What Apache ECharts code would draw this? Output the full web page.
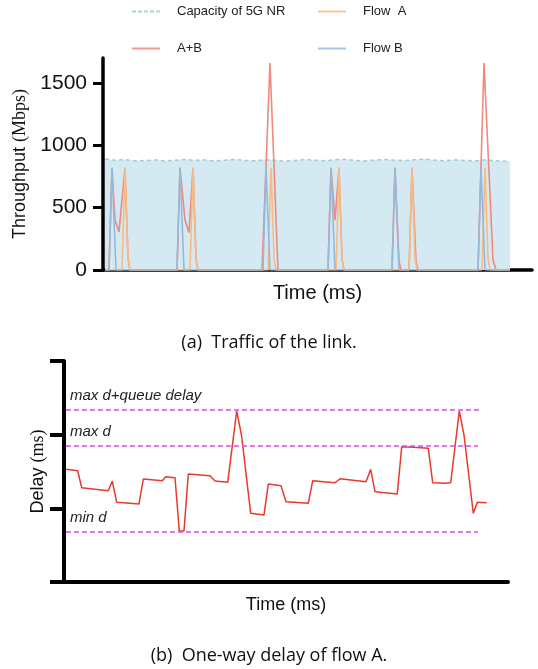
<!DOCTYPE html>
<html><head><meta charset="utf-8">
<script src="https://cdn.jsdelivr.net/npm/echarts@6/dist/echarts.min.js"></script>
<style>html,body{margin:0;padding:0;background:#fff}#c{width:538px;height:669px}</style>
</head><body><div id="c"></div>
<script>
// ---- Data (a) Traffic of the link ----
const capTimes = [2,12,22,32,42,52,62,72,82,92,102,112,122,132,142,152,162,172,182,192,202,212,222,232,242,252,262,272,282,292,302,312,322,332,342,352,362,372,382,392,402,407];
const capValues = [890,880,884,876,878,883,874,880,886,879,882,875,880,887,878,876,884,880,873,879,886,881,877,883,888,879,875,882,886,880,878,884,889,881,876,883,879,874,882,877,873,870];
const flowB = [[2,0],[6,0],[9,820],[13,0],[74,0],[77,820],[81,0],[160,0],[163,820],[167,0],[225,0],[228,820],[232,0],[289,0],[292,820],[296,0],[375,0],[378,820],[382,0],[407,0]];
const flowA = [[2,0],[19,0],[22,820],[25,90],[27,0],[87,0],[90,820],[93,90],[95,0],[165,0],[168,820],[171,90],[173,0],[233,0],[236,820],[239,90],[241,0],[306,0],[309,820],[312,90],[314,0],[379,0],[382,820],[385,90],[387,0],[407,0]];
const flowAB = [[2,0],[6,0],[9,820],[12,400],[16,306],[22,820],[25,90],[27,0],[74,0],[77,820],[82,400],[86,300],[90,820],[93,90],[95,0],[159,0],[167,1660],[175,0],[225,0],[228,820],[232,400],[236,820],[239,90],[241,0],[289,0],[292,820],[296,70],[298,0],[306,0],[309,820],[313,70],[315,0],[375,0],[381,1660],[390,80],[393,0],[407,0]];
const throughputTicks = [0,500,1000,1500];

// ---- Data (b) One-way delay of flow A ----
const delayTimes = [2,13.7,17.7,44.3,48.3,52.7,75,79.3,98.3,101.7,111,115.3,120,124.3,146,151,163.7,172.7,177.7,186.7,200,204.3,217,222,244.3,248.7,271,276,302,306.7,311,333.3,337.7,349.3,364.3,368.7,381,386.7,395.3,400,409.3,413.3,422.7];
const delayValues = [1.529,1.510,1.280,1.239,1.370,1.081,1.058,1.398,1.374,1.429,1.415,0.692,0.692,1.465,1.442,1.370,1.353,2.324,1.972,0.932,0.909,1.330,1.307,1.090,1.068,1.374,1.347,1.402,1.361,1.529,1.225,1.194,1.836,1.828,1.814,1.347,1.339,1.347,2.324,1.995,0.932,1.081,1.076];
const refNames = ['max d+queue delay','max d','min d'];
const refValues = [2.334,1.845,0.678];
const refStart = 2, refEnd = [416,414,414];

const SANS = 'Liberation Sans', SERIF = 'Liberation Serif', CAP = 'Open Sans';
const SOLID_ICON = 'path://M0,0H28V2H0Z';
const DASH_ICON = 'path://M0,0H4V2H0Z M6,0H10V2H6Z M12,0H16V2H12Z M18,0H22V2H18Z M24,0H28V2H24Z';
const chart = echarts.init(document.getElementById('c'), null, {renderer:'canvas'});

function legendItem(name, left, top, icon, color){
  return {data:[{name:name, icon:icon, itemStyle:{color:color}}], left:left, top:top, itemWidth:28, itemHeight:2, selectedMode:false,
    textStyle:{fontFamily:SANS, fontSize:13, color:'#222', padding:[0,0,0,12]}};
}

chart.setOption({
  animation:false,
  title:[
    {text:'(a)  Traffic of the link.', left:'center', top:329, textStyle:{fontFamily:CAP, fontSize:18, fontWeight:'normal', color:'#111'}},
    {text:'(b)  One-way delay of flow A.', left:'center', top:642, textStyle:{fontFamily:CAP, fontSize:18, fontWeight:'normal', color:'#111'}}
  ],
  legend:[
    legendItem('Capacity of 5G NR',127,0,DASH_ICON,'#a6d6d6'),
    legendItem('Flow  A',313,0,SOLID_ICON,'#f6c898'),
    legendItem('A+B',127,37,SOLID_ICON,'#ef9a8e'),
    legendItem('Flow B',313,37,SOLID_ICON,'#a7c4e2')
  ],
  grid:[
    {left:103, right:6, top:58, bottom:399},
    {left:64, right:30, top:361, bottom:87}
  ],
  xAxis:[
    {type:'value', gridIndex:0, min:0, max:429, name:'Time (ms)', nameLocation:'middle', nameGap:13,
     nameTextStyle:{fontFamily:SANS, fontSize:20, color:'#111'},
     axisLine:{lineStyle:{color:'#000', width:3.5}}, axisTick:{show:false}, axisLabel:{show:false}, splitLine:{show:false}},
    {type:'value', gridIndex:1, min:0, max:444, name:'Time (ms)', nameLocation:'middle', nameGap:14,
     nameTextStyle:{fontFamily:SANS, fontSize:18, color:'#111'},
     axisLine:{lineStyle:{color:'#000', width:4}}, axisTick:{show:false}, axisLabel:{show:false}, splitLine:{show:false}}
  ],
  yAxis:[
    {type:'value', gridIndex:0, min:0, max:1700, interval:500,
     name:'{a|Throughput }{b|(Mbps)}', nameLocation:'middle', nameGap:66, nameRotate:90,
     nameTextStyle:{rich:{a:{fontFamily:SANS, fontSize:18, color:'#111'}, b:{fontFamily:SERIF, fontSize:18, color:'#111'}}},
     axisLine:{show:true, lineStyle:{color:'#000', width:3.5}},
     axisTick:{show:true, length:10, lineStyle:{color:'#000', width:3}, customValues:throughputTicks},
     axisLabel:{fontFamily:SANS, fontSize:21, color:'#111', margin:16, customValues:throughputTicks, formatter:v=>String(v)},
     splitLine:{show:false}},
    {type:'value', gridIndex:1, min:0, max:3, interval:1,
     name:'{a|Delay }{b|(ms)}', nameLocation:'middle', nameGap:17, nameRotate:90,
     nameTextStyle:{rich:{a:{fontFamily:SANS, fontSize:18, color:'#111'}, b:{fontFamily:SERIF, fontSize:18, color:'#111'}}},
     axisLine:{show:true, lineStyle:{color:'#000', width:4}},
     axisTick:{show:true, length:14, lineStyle:{color:'#000', width:4}},
     axisLabel:{show:false}, splitLine:{show:false}}
  ],
  series:[
    {name:'Capacity of 5G NR', type:'line', xAxisIndex:0, yAxisIndex:0, symbol:'none', z:1,
     data:capTimes.map((t,i)=>[t,capValues[i]]),
     lineStyle:{color:'#9fd0cf', width:1.5, type:[4,3]}, itemStyle:{color:'#9fd0cf'},
     areaStyle:{color:'#d4e9f2', opacity:1}},
    {name:'A+B', type:'line', xAxisIndex:0, yAxisIndex:0, symbol:'none', z:2,
     data:flowAB, lineStyle:{color:'#ee8a7e', width:1.6}, itemStyle:{color:'#ee8a7e'}},
    {name:'Flow  A', type:'line', xAxisIndex:0, yAxisIndex:0, symbol:'none', z:3,
     data:flowA, lineStyle:{color:'#f6bc84', width:1.6}, itemStyle:{color:'#f6bc84'}},
    {name:'Flow B', type:'line', xAxisIndex:0, yAxisIndex:0, symbol:'none', z:4,
     data:flowB, lineStyle:{color:'#98b8da', width:1.6}, itemStyle:{color:'#98b8da'}},
    {name:'delay', type:'line', xAxisIndex:1, yAxisIndex:1, symbol:'none', z:3,
     data:delayTimes.map((t,i)=>[t,delayValues[i]]),
     lineStyle:{color:'#e8392e', width:1.5},
     markLine:{silent:true, symbol:'none',
       lineStyle:{color:'#d94ee2', width:1.5, type:[5,3]},
       label:{show:true, position:'insideStartTop', distance:[4,7], formatter:'{b}', fontFamily:SANS, fontSize:15, fontStyle:'italic', color:'#222'},
       data:refNames.map((n,i)=>[{name:n, coord:[refStart, refValues[i]]},{coord:[refEnd[i], refValues[i]]}])}}
  ]
});
</script></body></html>
